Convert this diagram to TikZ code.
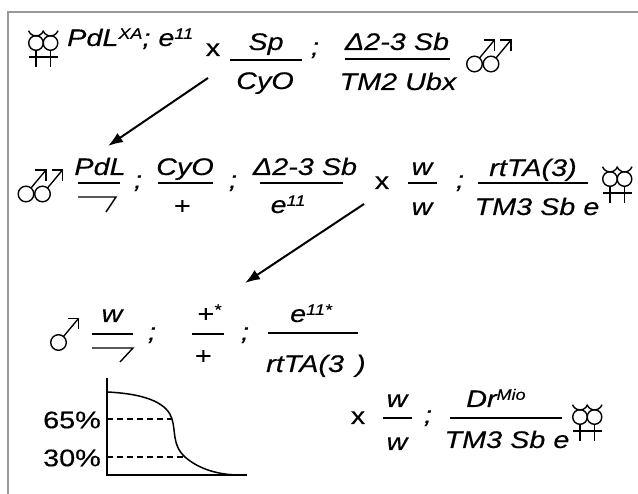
\documentclass[tikz,border=0pt]{standalone}
\usepackage{fontspec}
\setmainfont{Liberation Sans}[FakeStretch=1.2,FakeBold=0.3]
\usetikzlibrary{arrows.meta}
\newcommand\gsup[1]{\raisebox{.3em}{\fontsize{15}{16}\selectfont #1}}
\tikzset{
  g/.style={inner sep=0pt, anchor=base, font=\fontsize{24}{28}\selectfont\itshape},
  u/.style={inner sep=0pt, anchor=base, font=\fontsize{24}{28}\selectfont},
  fl/.style={line width=1.4pt},
  sym/.style={line width=1.4pt},
  cross/.style={line width=2pt, -{Latex[length=15pt,width=11pt]}},
  dline/.style={line width=1.1pt, dash pattern=on 6pt off 4pt},
  pics/fem2/.style={code={
    \foreach \cx in {0,14.5}{
      \draw[sym] (\cx,0) circle[radius=7.3];
      \draw[sym] (\cx,7.3)--(\cx,24);
      \draw[sym] (\cx+7.52,-12.3) arc[start angle=20,end angle=160,radius=8];
    }
    \draw[sym] (-7,14)--(21.5,14);
  }},
  pics/male/.style={code={
    \draw[sym] (0,0) circle[radius=7.8];
    \draw[sym] (5,-6)--(20,-24);
    \draw[sym] (9,-24)--(20,-24)--(20,-13);
  }},
}
\begin{document}
\begin{tikzpicture}[x=1pt,y=-1pt]
\useasboundingbox (0,0) rectangle (638,494);
\draw[gray!80, line width=1.2pt] (8,494)--(8,12)--(638,12);

% Row 1
\pic at (36,43) {fem2};
\node[g, anchor=base west] (p1) at (67,46) {PdL\gsup{XA}; e\gsup{11}};
\node[u] (x1) at (213,56) {x};
\node[g] (n1) at (266,50) {Sp};
\draw[fl] (230,60)--(302,60);
\node[g] (d1) at (265,89) {CyO};
\node[g] (s1) at (315,55) {;};
\node[g] (n2) at (397,50) {Δ2-3 Sb};
\draw[fl] (345,59)--(450,59);
\node[g] (d2) at (398,90) {TM2 Ubx};
\pic at (474.5,64) {male};
\pic at (491,64) {male};

% Arrow 1
\coordinate (a1s) at (208,78);
\coordinate (a1e) at (108,146);
\draw[cross] (a1s)--(a1e);

% Row 2
\pic at (26,194) {male};
\pic at (42.5,194) {male};
\node[g] (n3) at (100,175) {PdL};
\draw[fl] (78,183)--(120,183);
\draw[fl] (78,197)--(116,197)--(106,212);
\node[g] (s2) at (138,188) {;};
\node[g] (n4) at (185,175) {CyO};
\draw[fl] (158,183)--(213,183);
\node[g] (d4) at (182,214) {+};
\node[g] (s3) at (233,188) {;};
\node[g] (n5) at (305,175) {Δ2-3 Sb};
\draw[fl] (260,183)--(343,183);
\node[g] (d5) at (288,213) {e\gsup{11}};
\node[u] (x2) at (382,189) {x};
\node[g] (n6) at (422,175) {w};
\draw[fl] (408,183)--(437,183);
\node[g] (d6) at (422,215) {w};
\node[g] (s4) at (460,188) {;};
\node[g] (n7) at (533,176) {rtTA(3)};
\draw[fl] (478,183)--(588,183);
\node[g] (d7) at (537,215) {TM3 Sb e};
\pic at (610,179) {fem2};

% Arrow 2
\coordinate (a2s) at (364,204);
\coordinate (a2e) at (245,283);
\draw[cross] (a2s)--(a2e);

% Row 3
\pic at (58.5,342.5) {male};
\node[g] (n8) at (112,322) {w};
\draw[fl] (92,334)--(133,334);
\draw[fl] (92,348)--(133,348)--(120,362);
\node[g] (s5) at (152,340) {;};
\node[g] (n9) at (209,322) {+\gsup{*}};
\draw[fl] (192,334)--(224,334);
\node[g] (d9) at (203,364) {+};
\node[g] (s6) at (245,340) {;};
\node[g, anchor=base west] (n10) at (290,322) {e\gsup{11*}};
\draw[fl] (268,333)--(358,333);
\node[g, anchor=base west] (d10) at (266,372) {rtTA(3\hspace{0.5em})};

% Plot
\coordinate (ytop) at (107,378);
\coordinate (orig) at (107,475);
\coordinate (xend) at (247,475);
\draw[line width=1.3pt] (ytop)--(orig)--(xend);
\draw[line width=1.5pt] (107,392) .. controls (150,394) and (168,405) .. (172,419)
   .. controls (176,432) and (172,445) .. (185,457)
   .. controls (200,470) and (220,475) .. (240,475);
\draw[dline] (107,419)--(172,419);
\draw[dline] (107,457)--(185,457);
\node[u, anchor=east] (l65) at (101,420) {65\%};
\node[u, anchor=east] (l30) at (101,458) {30\%};

% Bottom right
\node[u] (x3) at (358,424) {x};
\node[g] (n11) at (397,407) {w};
\draw[fl] (383,418)--(412,418);
\node[g] (d11) at (397,450) {w};
\node[g] (s7) at (428,423) {;};
\node[g, anchor=base west] (n12) at (466,407) {Dr\gsup{Mio}};
\draw[fl] (450,418)--(562,418);
\node[g] (d12) at (507,448) {TM3 Sb e};
\pic at (580,417) {fem2};
\end{tikzpicture}
\end{document}
